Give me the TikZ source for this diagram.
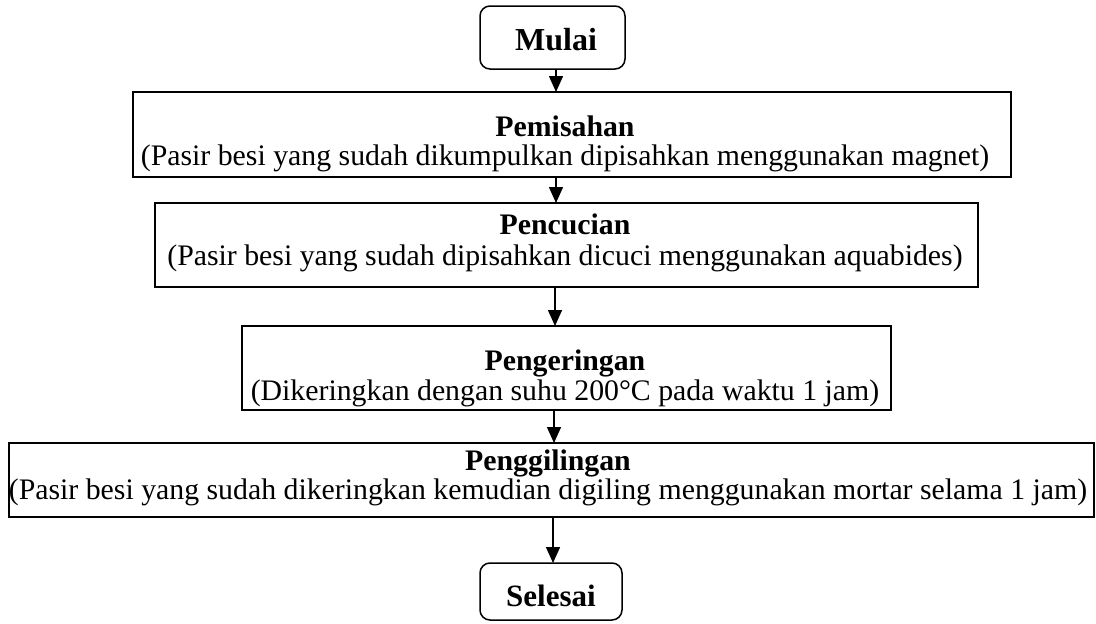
\documentclass[tikz,border=0pt]{standalone}
\usepackage{fontspec}
\setmainfont{Liberation Serif}
\usetikzlibrary{arrows.meta}
\begin{document}
\begin{tikzpicture}[x=1pt,y=-1pt,
  box/.style={draw,line width=1.5pt,inner sep=0pt,outer sep=0pt},
  term/.style={box,rounded corners=10pt},
  txt/.style={anchor=base,inner sep=0pt,font=\fontsize{29.8}{34}\selectfont},
  ttl/.style={anchor=base,inner sep=0pt,font=\fontsize{29.8}{34}\selectfont\bfseries},
  arr/.style={line width=1.5pt,-{Triangle[length=16pt,width=14pt]}}]
\useasboundingbox (0,0) rectangle (1096,624);
% boxes
\node[term,minimum width=145pt,minimum height=63pt] (mulai) at (552.5,37.5) {};
\node[box,minimum width=878pt,minimum height=85pt] (pemisahan) at (572,134.5) {};
\node[box,minimum width=823pt,minimum height=84pt] (pencucian) at (566.5,245) {};
\node[box,minimum width=649pt,minimum height=84pt] (pengeringan) at (566.5,368) {};
\node[box,minimum width=1085pt,minimum height=74pt] (penggilingan) at (551.5,480) {};
\node[term,minimum width=142pt,minimum height=57pt] (selesai) at (551,591.5) {};
% texts
\node[ttl,font=\fontsize{32}{36}\selectfont\bfseries] (tmulai) at (556,50) {Mulai};
\node[ttl] (t1a) at (565,136) {Pemisahan};
\node[txt] (t1b) at (565,165) {(Pasir besi yang sudah dikumpulkan dipisahkan menggunakan magnet)};
\node[ttl] (t2a) at (565,234) {Pencucian};
\node[txt] (t2b) at (565,265) {(Pasir besi yang sudah dipisahkan dicuci menggunakan aquabides)};
\node[ttl] (t3a) at (565,370) {Pengeringan};
\node[txt] (t3b) at (565,400) {(Dikeringkan dengan suhu 200°C pada waktu 1 jam)};
\node[ttl] (t4a) at (548,470) {Penggilingan};
\node[txt] (t4b) at (548,499) {(Pasir besi yang sudah dikeringkan kemudian digiling menggunakan mortar selama 1 jam)};
\node[ttl,font=\fontsize{31}{36}\selectfont\bfseries] (tselesai) at (551,606) {Selesai};
% arrows
\coordinate (c1) at (556,0);
\coordinate (c2) at (556,0);
\coordinate (c3) at (555,0);
\coordinate (c4) at (554,0);
\coordinate (c5) at (553,0);
\draw[arr] (mulai.south -| c1) -- (pemisahan.north -| c1);
\draw[arr] (pemisahan.south -| c2) -- (pencucian.north -| c2);
\draw[arr] (pencucian.south -| c3) -- (pengeringan.north -| c3);
\draw[arr] (pengeringan.south -| c4) -- (penggilingan.north -| c4);
\draw[arr] (penggilingan.south -| c5) -- (selesai.north -| c5);
\end{tikzpicture}
\end{document}
